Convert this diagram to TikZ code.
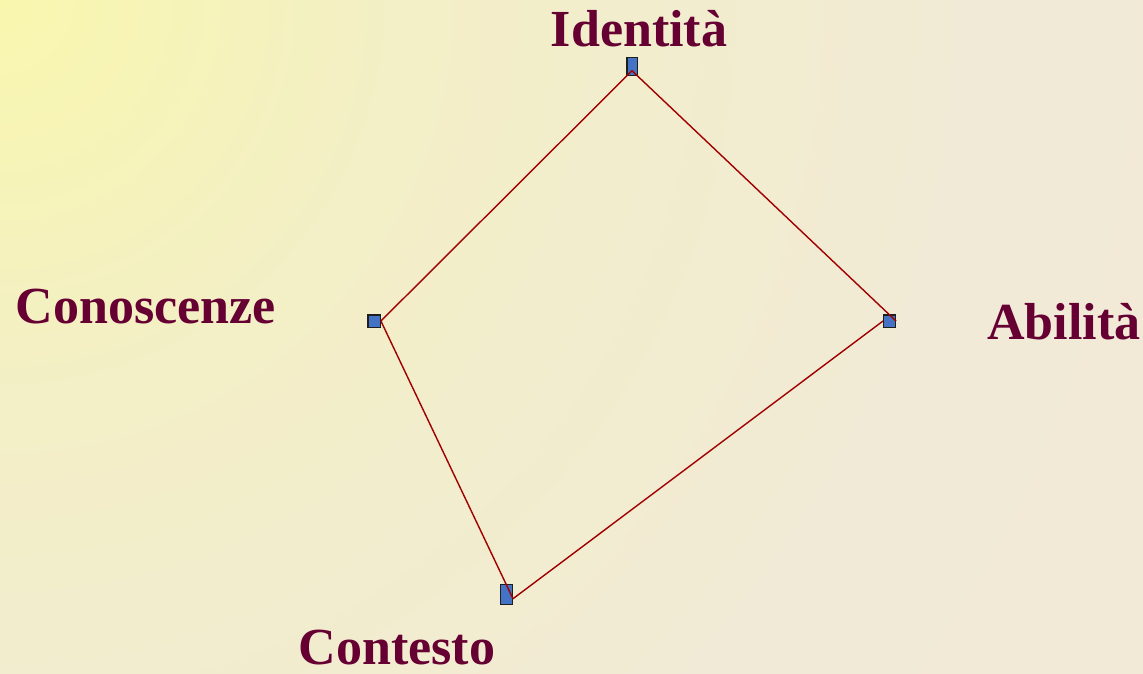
\documentclass[tikz,border=0pt]{standalone}
\usepackage{xcolor}
\usepackage{fontspec}
\setmainfont{Liberation Serif}

\definecolor{labelcol}{HTML}{660033}
\definecolor{linecol}{HTML}{A00000}
\definecolor{boxfill}{HTML}{4472C4}
\definecolor{boxline}{HTML}{1E1E1E}
\definecolor{bgA}{HTML}{F9F7AE}
\definecolor{bgB}{HTML}{F3EFC6}
\definecolor{bgC}{HTML}{F1EAD7}
\definecolor{bgD}{HTML}{F8EBD1}
\pgfdeclareradialshading{bgshade}{\pgfpoint{0bp}{0bp}}{color(0bp)=(bgA); color(7bp)=(bgB); color(18bp)=(bgC); color(50bp)=(bgD)}

\begin{document}
\begin{tikzpicture}[x=0.025cm, y=-0.025cm,
    marker/.style={rectangle, draw=boxline, fill=boxfill, line width=1pt, inner sep=0pt},
    lbl/.style={font=\fontsize{37}{40}\selectfont\bfseries, text=labelcol, anchor=base, inner sep=0pt},
    link/.style={draw=linecol, line width=1pt}]
    \useasboundingbox (0,0) rectangle (1143,673);
    % background
    \begin{scope}
        \clip (0,0) rectangle (1143,673);
        \shade[shading=bgshade] (0,0) circle (35cm);
    \end{scope}

    \node[marker, minimum width=0.26cm, minimum height=0.44cm] (idm) at (632,66.5) {};
    \node[marker, minimum width=0.29cm, minimum height=0.31cm] (abm) at (889.5,321) {};
    \node[marker, minimum width=0.29cm, minimum height=0.49cm] (ctm) at (506.5,594.5) {};
    \node[marker, minimum width=0.31cm, minimum height=0.31cm] (cnm) at (374,321) {};

    \draw[link] ([yshift=-3pt]idm.center) -- (abm.east);
    \draw[link] (abm.west) -- ([yshift=-3pt]ctm.east);
    \draw[link] ([yshift=-3pt]ctm.east) -- (cnm.east);
    \draw[link] (cnm.east) -- ([yshift=-3pt]idm.center);

    \node[lbl] (idl) at (639,46) {Identità};
    \node[lbl] (abl) at (1064,339) {Abilità};
    \node[lbl] (ctl) at (397,664) {Contesto};
    \node[lbl] (cnl) at (146,323) {Conoscenze};
\end{tikzpicture}
\end{document}
